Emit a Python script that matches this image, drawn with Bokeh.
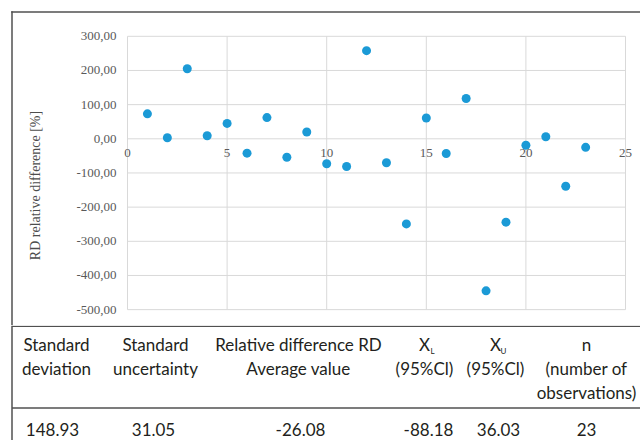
import math
from bokeh.plotting import figure
from bokeh.models import Range1d, FixedTicker, CustomJSTickFormatter
from bokeh.layouts import column
from bokeh.embed import file_html
from bokeh.resources import INLINE
from bokeh.core.properties import value

# ---- data ----
observation = list(range(1, 24))
rd_percent = [73, 3, 205, 9, 45, -42, 62, -54, 20, -73, -81, 258, -70,
              -249, 61, -43, 118, -445, -244, -19, 6, -139, -25]

x_ticks = [0, 5, 10, 15, 20, 25]
y_ticks = [-500, -400, -300, -200, -100, 0, 100, 200, 300]
y_title = "RD relative difference [%]"

header_lines = [
    ["Standard", "deviation"],
    ["Standard", "uncertainty"],
    ["Relative difference RD", "Average value"],
    ["X", "(95%Cl)"],
    ["X", "(95%Cl)"],
    ["n", "(number of", "observations)"],
]
header_subscripts = ["", "", "", "L", "U", ""]
stat_values = ["148.93", "31.05", "-26.08", "-88.18", "36.03", "23"]

# ---- layout constants (page pixels) ----
LEFT, RIGHT = 0, 640
TOP, SPLIT, BOTTOM = 0, 325, 440
PX0, PXS = 127.0, 19.92       # page x of x=0, pixels per unit
PY0, PYS = 138.3, 0.34167     # page y of y=0, pixels per unit
BORDER = 11.5                 # outer dark frame (left / top)
TITLE_PX, TITLE_PY = 35, 185  # centre of the y-axis title

header_cx = [56, 155, 298, 424, 495, 586]
subscript_dx = 8
data_cx = [52, 153, 300, 428, 498, 586]
line_y = [344, 368, 392]
rule_y = [325.8, 407.5]
data_y = 429

SERIF = "Liberation Serif"
SANS = "Lato"
GRID = "#d9d9d9"
DARK = "#505050"
LABEL = "#595959"


def px_to_x(px):
    return (px - PX0) / PXS


def py_to_y(py):
    return (PY0 - py) / PYS


# ---- scatter chart ----
p1 = figure(width=RIGHT - LEFT, height=SPLIT - TOP,
            x_range=Range1d(px_to_x(LEFT), px_to_x(RIGHT)),
            y_range=Range1d(py_to_y(SPLIT), py_to_y(TOP)),
            output_backend="svg", toolbar_location=None, min_border=0,
            background_fill_color="white", border_fill_color="white")
p1.outline_line_color = None
p1.grid.visible = False

p1.segment(x0=x_ticks, y0=[y_ticks[0]] * len(x_ticks), x1=x_ticks, y1=[y_ticks[-1]] * len(x_ticks),
           line_color=GRID, line_width=1)
p1.segment(x0=[x_ticks[0]] * len(y_ticks), y0=y_ticks, x1=[x_ticks[-1]] * len(y_ticks), y1=y_ticks,
           line_color=GRID, line_width=1)

xa = p1.xaxis[0]
xa.fixed_location = 0
xa.bounds = (x_ticks[0], x_ticks[-1])
xa.ticker = FixedTicker(ticks=x_ticks)
xa.axis_line_color = None
xa.major_tick_line_color = None
xa.minor_tick_line_color = None
xa.major_tick_out = 0
xa.major_label_standoff = 10
xa.major_label_text_font = SERIF
xa.major_label_text_font_size = "13px"
xa.major_label_text_color = LABEL

ya = p1.yaxis[0]
ya.fixed_location = 0
ya.bounds = (y_ticks[0], y_ticks[-1])
ya.ticker = FixedTicker(ticks=y_ticks)
ya.formatter = CustomJSTickFormatter(code="return tick.toFixed(2).replace('.', ',');")
ya.axis_line_color = None
ya.major_tick_line_color = None
ya.minor_tick_line_color = None
ya.major_tick_out = 0
ya.major_label_standoff = 11
ya.major_label_text_font = SERIF
ya.major_label_text_font_size = "13px"
ya.major_label_text_color = LABEL

# y-axis title
p1.text(x=[px_to_x(TITLE_PX)], y=[py_to_y(TITLE_PY)], text=[y_title], angle=math.pi / 2,
        text_align="center", text_baseline="middle", text_font=value(SERIF),
        text_font_size="14px", text_color="#4d4d4d")

p1.scatter(observation, rd_percent, size=9, fill_color="#1b9ad6", line_color=None)

p1.segment(x0=[px_to_x(BORDER - 0.75), px_to_x(BORDER)],
           y0=[py_to_y(BORDER), py_to_y(BORDER - 0.75)],
           x1=[px_to_x(RIGHT), px_to_x(BORDER)],
           y1=[py_to_y(BORDER), py_to_y(SPLIT)],
           line_color=DARK, line_width=1.5)

# ---- table ----
p2 = figure(width=RIGHT - LEFT, height=BOTTOM - SPLIT,
            x_range=Range1d(LEFT, RIGHT), y_range=Range1d(BOTTOM, SPLIT),
            output_backend="svg", toolbar_location=None, x_axis_type=None, y_axis_type=None,
            min_border=0, background_fill_color="white", border_fill_color="white")
p2.outline_line_color = None
p2.grid.visible = False

p2.segment(x0=[BORDER] * len(rule_y), y0=rule_y, x1=[RIGHT] * len(rule_y), y1=rule_y,
           line_color=DARK, line_width=1.3)
p2.segment(x0=[BORDER], y0=[SPLIT], x1=[BORDER], y1=[BOTTOM], line_color=DARK, line_width=1.5)

hx, hy, ht = [], [], []
for cx, lines in zip(header_cx, header_lines):
    for i, t in enumerate(lines):
        hx.append(cx)
        hy.append(line_y[i])
        ht.append(t)
p2.text(x=hx, y=hy, text=ht, text_align="center", text_baseline="middle",
        text_font=value(SANS), text_font_size="17px", text_color="#231f20")

sx, sy, st = [], [], []
for cx, s in zip(header_cx, header_subscripts):
    if s:
        sx.append(cx + subscript_dx)
        sy.append(line_y[0] + 6)
        st.append(s)
p2.text(x=sx, y=sy, text=st, text_align="center", text_baseline="middle",
        text_font=value(SANS), text_font_size="8px", text_color="#231f20")

p2.text(x=data_cx, y=[data_y] * len(data_cx), text=stat_values, text_align="center",
        text_baseline="middle", text_font=value(SANS), text_font_size="17px",
        text_color="#231f20")

root = column(p1, p2, spacing=0)

open("out.html", "w").write(file_html(root, INLINE))
